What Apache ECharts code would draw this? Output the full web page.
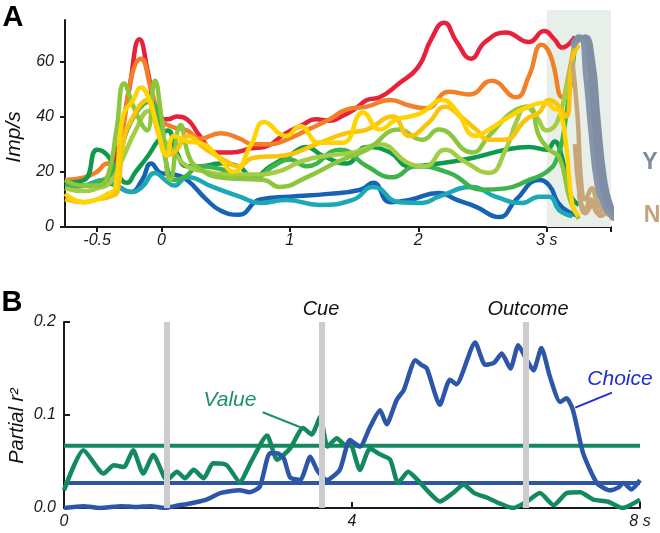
<!DOCTYPE html>
<html><head><meta charset="utf-8">
<script src="https://cdn.jsdelivr.net/npm/echarts@6/dist/echarts.min.js"></script>
<style>html,body{margin:0;padding:0;background:#fff}#c{width:660px;height:533px}</style>
</head><body><div id="c"></div>
<script>
const FONT = '"Liberation Sans", Arial, Helvetica, sans-serif';

// ---------- Panel A data ----------
const aXTicks = [-0.5, 0, 1, 2, 3, 3.5];
const aXLabels = [-0.5, 0, 1, 2, 3];
const aYTicks = [0, 20, 40, 60];
const shadeRange = [3.0, 3.5];

const red = [[-0.75,16],[-0.6,15],[-0.5,16],[-0.42,18],[-0.33,30],[-0.25,50],[-0.17,68],[-0.1,55],[-0.03,40],[0.05,39],[0.12,40],[0.2,39],[0.3,33],[0.43,27],[0.55,27],[0.7,28.5],[0.8,29],[0.97,34],[1.1,37],[1.2,39],[1.31,38.5],[1.4,40],[1.5,42.5],[1.6,46],[1.7,47],[1.85,52],[2.0,58],[2.1,68],[2.2,74],[2.3,67],[2.41,61],[2.52,67],[2.68,70.5],[2.86,67],[2.98,71],[3.06,68],[3.12,65],[3.22,69]];
const orange = [[-0.75,17],[-0.6,18],[-0.5,20],[-0.42,23],[-0.36,22],[-0.3,35],[-0.23,55],[-0.16,61],[-0.08,50],[0,39],[0.1,36],[0.2,35],[0.3,32],[0.46,34],[0.61,32],[0.71,30],[0.85,30],[0.97,31.6],[1.13,35],[1.31,39],[1.44,42.5],[1.6,43.6],[1.78,46],[1.93,44],[2.06,43],[2.24,49],[2.4,48],[2.57,53],[2.76,47],[2.86,54.5],[2.96,66],[3.03,62],[3.12,47],[3.17,55],[3.22,68]];
const yellowA = [[-0.75,12],[-0.6,9],[-0.5,10],[-0.42,12],[-0.36,14],[-0.3,40],[-0.22,46],[-0.16,50.5],[-0.08,44],[0,30],[0.04,26],[0.1,33],[0.2,31],[0.3,30.5],[0.45,25],[0.56,20],[0.7,30],[0.8,38],[0.97,33],[1.08,36.5],[1.23,30.5],[1.41,30.5],[1.57,41.5],[1.7,35.3],[1.83,39],[1.93,40],[2.03,41.5],[2.19,46],[2.29,42.5],[2.45,33],[2.55,35.3],[2.71,40],[2.86,43.6],[3.0,45],[3.05,43],[3.1,42],[3.15,30],[3.2,8],[3.25,4]];
const yellowB = [[-0.75,10],[-0.6,9],[-0.5,10],[-0.4,11],[-0.34,13],[-0.3,30],[-0.22,40],[-0.11,46],[-0.03,35],[0.05,26],[0.12,28],[0.2,33],[0.35,28],[0.5,24],[0.6,22],[0.71,25],[0.97,26],[1.23,30.5],[1.44,34],[1.6,35.3],[1.8,40],[1.93,33],[2.08,37.8],[2.21,43.6],[2.33,40],[2.45,35.3],[2.55,31.6],[2.67,31.6],[2.84,39],[2.94,41.5],[3.02,46],[3.09,44],[3.15,40],[3.2,61],[3.25,66]];
const lightGreenA = [[-0.75,17],[-0.6,15],[-0.5,15],[-0.42,18],[-0.35,35],[-0.29,52],[-0.22,44],[-0.15,37],[-0.11,35],[-0.05,53],[0.0,40],[0.07,17],[0.15,37],[0.22,25],[0.3,21],[0.45,18],[0.6,17.5],[0.8,17],[0.92,14.5],[1.13,18],[1.39,24],[1.6,28],[1.85,35.3],[2.03,31.6],[2.16,35.3],[2.42,27],[2.55,33],[2.76,42.5],[2.86,43.6],[2.94,33],[3.02,28],[3.1,25],[3.18,10],[3.25,3]];
const lightGreenB = [[-0.75,14],[-0.6,13],[-0.5,14],[-0.4,16],[-0.3,25],[-0.2,35],[-0.1,42],[0,33],[0.1,27],[0.2,22],[0.35,20],[0.5,19],[0.71,19],[0.9,20],[1.1,24],[1.31,26],[1.5,27],[1.7,30],[1.93,23],[2.05,22],[2.21,28],[2.35,24],[2.55,19.6],[2.68,28],[2.76,37.8],[2.84,43.6],[2.92,40],[3.0,35],[3.08,38],[3.15,50],[3.22,66]];
const green = [[-0.75,15],[-0.6,15],[-0.5,16],[-0.37,20.7],[-0.24,37.8],[-0.09,45.5],[0.02,27],[0.1,17],[0.18,18],[0.3,22],[0.46,21],[0.71,17.5],[0.87,22],[1.0,24.5],[1.13,22],[1.39,28],[1.6,22],[1.8,18],[1.98,22],[2.24,19.6],[2.5,13.5],[2.68,14],[2.86,17],[3.0,20],[3.08,25],[3.15,40],[3.22,66]];
const darkGreen = [[-0.75,16],[-0.6,17],[-0.5,28],[-0.42,26],[-0.35,20],[-0.27,16],[-0.2,20],[-0.1,26],[-0.03,31],[0.05,35],[0.12,27],[0.2,22],[0.3,22],[0.46,23],[0.6,22],[0.71,18],[0.85,22],[1.0,26],[1.13,29],[1.25,26],[1.44,23],[1.6,29],[1.78,27],[1.93,22],[2.16,23],[2.42,25],[2.68,28],[2.86,29],[3.0,28],[3.06,31],[3.12,25],[3.18,12],[3.25,8]];
const teal = [[-0.75,14],[-0.6,15],[-0.45,17],[-0.35,15],[-0.24,12.7],[-0.15,14.5],[-0.05,19.6],[0.03,17],[0.1,15],[0.2,18],[0.4,14.5],[0.61,11],[0.77,8.7],[0.97,9.8],[1.23,8],[1.49,9.8],[1.65,14.5],[1.85,9],[2.03,8.7],[2.16,11],[2.42,14.5],[2.6,11],[2.81,8.7],[2.94,11],[3.02,11],[3.1,6],[3.2,4]];
const blue = [[-0.75,14.5],[-0.6,15],[-0.45,16],[-0.35,15],[-0.24,12.7],[-0.15,17],[-0.08,23],[0.0,19.5],[0.1,19],[0.2,17],[0.35,10],[0.46,6],[0.6,4.4],[0.77,10],[1.0,11],[1.3,12],[1.55,13.5],[1.65,16],[1.78,9],[1.93,9.8],[2.16,12.3],[2.3,9.8],[2.45,7.3],[2.63,3.6],[2.76,9.8],[2.94,17],[3.02,15],[3.09,8.7],[3.17,5.5],[3.25,4]];
const choiceY1 = [[3.2,66],[3.25,69],[3.3,67],[3.34,50],[3.38,25],[3.42,12],[3.48,6],[3.55,3],[3.62,2],[3.68,3]];
const choiceY2 = [[3.22,68],[3.28,68],[3.33,60],[3.37,40],[3.42,20],[3.47,9],[3.52,5],[3.6,3],[3.67,2]];
const choiceY3 = [[3.2,65],[3.26,68],[3.3,55],[3.34,35],[3.39,15],[3.44,8],[3.5,4],[3.58,2.5],[3.65,4]];
const choiceY4 = [[3.23,67],[3.3,69],[3.36,60],[3.4,40],[3.45,18],[3.5,8],[3.56,4],[3.64,3]];
const choiceN1 = [[3.2,60],[3.24,40],[3.27,15],[3.3,10],[3.35,14],[3.4,8],[3.45,6],[3.5,4],[3.55,7],[3.6,3],[3.66,6]];
const choiceN2 = [[3.22,30],[3.26,10],[3.3,5],[3.36,8],[3.42,4],[3.5,6],[3.56,3],[3.62,5],[3.67,7]];
const choiceN3 = [[3.25,12],[3.3,6],[3.34,10],[3.4,5],[3.46,8],[3.52,3],[3.58,5],[3.64,2]];

// ---------- Panel B data ----------
const bXLabels = [0, 4, 8];
const bXTicks = [4, 8];
const bYTicks = [0, 0.1, 0.2];
const eventTimes = [1.43, 3.58, 6.42];
const valueThreshold = 0.067;
const choiceThreshold = 0.027;
const valueR2 = [[0,0.019],[0.27,0.062],[0.55,0.037],[0.69,0.046],[0.83,0.044],[0.96,0.062],[1.1,0.037],[1.24,0.057],[1.43,0.030],[1.57,0.039],[1.68,0.032],[1.8,0.041],[1.94,0.032],[2.07,0.048],[2.26,0.046],[2.44,0.028],[2.6,0.05],[2.82,0.078],[2.96,0.052],[3.14,0.064],[3.32,0.086],[3.44,0.079],[3.56,0.098],[3.66,0.066],[3.79,0.075],[3.9,0.068],[3.97,0.07],[4.11,0.041],[4.25,0.064],[4.38,0.058],[4.53,0.052],[4.64,0.027],[4.78,0.039],[4.9,0.031],[5.08,0.016],[5.22,0.007],[5.4,0.016],[5.55,0.025],[5.7,0.016],[5.88,0.011],[6.05,0.005],[6.24,0.0],[6.43,0.007],[6.61,0.016],[6.8,0.003],[6.98,0.016],[7.17,0.017],[7.35,0.009],[7.55,0.007],[7.76,0.0],[8.0,0.009]];
const choiceR2 = [[0,0.0],[0.27,0.002],[0.5,0.0],[0.8,0.002],[1.0,0.001],[1.2,0.002],[1.4,0.0],[1.6,0.003],[1.7,0.004],[1.98,0.009],[2.17,0.016],[2.44,0.019],[2.58,0.017],[2.72,0.023],[2.86,0.059],[2.96,0.059],[3.05,0.054],[3.14,0.033],[3.28,0.03],[3.42,0.055],[3.52,0.04],[3.65,0.03],[3.83,0.041],[3.97,0.073],[4.11,0.066],[4.25,0.087],[4.39,0.105],[4.48,0.09],[4.62,0.116],[4.72,0.127],[4.88,0.159],[4.96,0.154],[5.04,0.15],[5.22,0.111],[5.36,0.138],[5.45,0.133],[5.71,0.178],[5.85,0.154],[5.97,0.156],[6.08,0.166],[6.2,0.15],[6.31,0.175],[6.42,0.16],[6.52,0.148],[6.63,0.172],[6.75,0.141],[6.89,0.114],[6.98,0.118],[7.07,0.105],[7.21,0.059],[7.4,0.027],[7.58,0.019],[7.7,0.022],[7.77,0.027],[7.88,0.02],[8.0,0.03]];
const valueLeader = [[2.76,0.103],[3.31,0.086]];
const choiceLeader = [[7.61,0.124],[7.10,0.108]];

// ---------- styles ----------
const AX = '#1a1a1a';
const lineDefsA = [
  {d: red, c: '#e8213a'},
  {d: orange, c: '#f28028'},
  {d: blue, c: '#1862b5'},
  {d: teal, c: '#1ca8b4'},
  {d: darkGreen, c: '#0d9a4c'},
  {d: green, c: '#3cb44b'},
  {d: lightGreenB, c: '#a2cd45'},
  {d: lightGreenA, c: '#8cc63e'},
  {d: yellowB, c: '#fcc30c'},
  {d: yellowA, c: '#ffd400'},
  {d: choiceN1, c: '#c7a77a'},
  {d: choiceN2, c: '#c7a77a'},
  {d: choiceN3, c: '#c7a77a'},
  {d: choiceY1, c: '#7f8ea5'},
  {d: choiceY2, c: '#7f8ea5'},
  {d: choiceY3, c: '#8795aa'},
  {d: choiceY4, c: '#7f8ea5'}
];

const lbl = (extra) => Object.assign({fontFamily: FONT, fontStyle: 'italic', fontSize: 16, color: AX}, extra);

const series = lineDefsA.map(s => ({
  type: 'line', xAxisIndex: 0, yAxisIndex: 0, data: s.d, showSymbol: false, smooth: 0.5,
  clip: false, lineStyle: {color: s.c, width: 4.5}, z: 3, silent: true
}));

// shade
series.push({
  type: 'line', xAxisIndex: 2, yAxisIndex: 2, data: [], z: 0, silent: true,
  markArea: {silent: true, itemStyle: {color: '#e8efe8'}, data: [[{xAxis: shadeRange[0]}, {xAxis: shadeRange[1]}]]}
});

// Panel B
series.push({
  type: 'line', xAxisIndex: 1, yAxisIndex: 1, data: [], z: 1, silent: true,
  markLine: {silent: true, symbol: 'none', label: {show: false},
    lineStyle: {color: '#cccccc', width: 6, type: 'solid'},
    data: eventTimes.map(t => ({xAxis: t}))}
});
series.push({type: 'line', xAxisIndex: 1, yAxisIndex: 1, data: [[0, valueThreshold], [8, valueThreshold]], showSymbol: false, lineStyle: {color: '#138a5d', width: 4}, z: 2, silent: true});
series.push({type: 'line', xAxisIndex: 1, yAxisIndex: 1, data: [[0, choiceThreshold], [8, choiceThreshold]], showSymbol: false, lineStyle: {color: '#2d56a9', width: 4}, z: 2, silent: true});
series.push({type: 'line', xAxisIndex: 1, yAxisIndex: 1, data: valueR2, showSymbol: false, smooth: 0.2, lineStyle: {color: '#138a5d', width: 4.5}, z: 3, silent: true});
series.push({type: 'line', xAxisIndex: 1, yAxisIndex: 1, data: choiceR2, showSymbol: false, smooth: 0.2, lineStyle: {color: '#2d56a9', width: 4.5}, z: 4, silent: true});
series.push({type: 'line', xAxisIndex: 1, yAxisIndex: 1, data: valueLeader, showSymbol: false, lineStyle: {color: '#1a9070', width: 2}, z: 4, silent: true});
series.push({type: 'line', xAxisIndex: 1, yAxisIndex: 1, data: choiceLeader, showSymbol: false, lineStyle: {color: '#1f2fd0', width: 2}, z: 4, silent: true});

const txt = (text, x, y, size, color, opts) => Object.assign({
  type: 'text', x: x, y: y, silent: true, z: 10,
  style: {text: text, x: 0, y: 0, fill: color, font: (opts && opts.font) || ('italic ' + size + 'px ' + FONT),
    align: 'center', verticalAlign: 'middle', textAlign: 'center', textVerticalAlign: 'middle'}
}, opts && opts.rotation ? {rotation: opts.rotation} : {});

const option = {
  animation: false,
  backgroundColor: '#ffffff',
  grid: [
    {left: 65, right: 49, top: 20, bottom: 306},
    {left: 64, right: 20, top: 322, bottom: 25},
    {left: 65, right: 49, top: 10, bottom: 306}
  ],
  xAxis: [
    {type: 'value', gridIndex: 0, min: -0.75, max: 3.5,
      axisLine: {onZero: false, lineStyle: {color: AX, width: 2}},
      axisTick: {customValues: aXTicks, length: 5, lineStyle: {color: AX, width: 2}},
      axisLabel: lbl({customValues: aXLabels, margin: 6, formatter: v => v === 3 ? '3 s' : String(v)}),
      splitLine: {show: false}},
    {type: 'value', gridIndex: 1, min: 0, max: 8,
      axisLine: {onZero: false, lineStyle: {color: AX, width: 2}},
      axisTick: {customValues: bXTicks, inside: true, length: 6, lineStyle: {color: AX, width: 2}},
      axisLabel: lbl({customValues: bXLabels, margin: 6, formatter: v => v === 8 ? '8 s' : String(v)}),
      splitLine: {show: false}},
    {type: 'value', gridIndex: 2, min: -0.75, max: 3.5, show: false}
  ],
  yAxis: [
    {type: 'value', gridIndex: 0, min: 0, max: 75,
      axisLine: {show: true, onZero: false, lineStyle: {color: AX, width: 2}},
      axisTick: {show: true, customValues: aYTicks, length: 5, lineStyle: {color: AX, width: 2}},
      axisLabel: lbl({customValues: aYTicks, margin: 11}),
      splitLine: {show: false}},
    {type: 'value', gridIndex: 1, min: 0, max: 0.2,
      axisLine: {show: true, onZero: false, lineStyle: {color: AX, width: 2}},
      axisTick: {show: true, customValues: bYTicks, inside: true, length: 6, lineStyle: {color: AX, width: 2}},
      axisLabel: lbl({customValues: bYTicks, margin: 8, formatter: v => v.toFixed(1)}),
      splitLine: {show: false}},
    {type: 'value', gridIndex: 2, min: 0, max: 1, show: false}
  ],
  graphic: [
    txt('A', 13, 18, 28, '#000', {font: 'bold 29px ' + FONT}),
    txt('B', 12, 303, 28, '#000', {font: 'bold 29px ' + FONT}),
    txt('Imp/s', 14, 137, 21, '#111', {rotation: Math.PI / 2}),
    txt('Partial r\u00B2', 17, 426, 20, '#111', {rotation: Math.PI / 2}),
    txt('Cue', 321, 309, 20, '#111'),
    txt('Outcome', 528, 309, 20, '#111'),
    txt('Value', 230, 400, 21, '#1a9070'),
    txt('Choice', 620, 379, 21, '#1f2fd0'),
    txt('Y', 650, 163, 22, '#7d8aa0', {font: 'bold 23px ' + FONT}),
    txt('N', 652, 216, 22, '#c2a478', {font: 'bold 23px ' + FONT})
  ],
  series: series
};

const chart = echarts.init(document.getElementById('c'), null, {renderer: 'canvas'});
chart.setOption(option);
</script>
</body></html>
